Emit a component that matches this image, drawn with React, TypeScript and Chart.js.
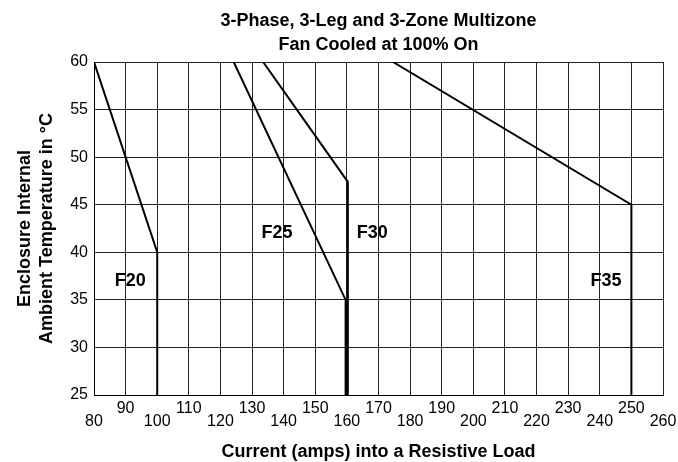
import React, { useEffect, useRef } from "react";
import { Chart, registerables } from "chart.js";

Chart.register(...registerables);

// ---- data ----
const titleLines = ["3-Phase, 3-Leg and 3-Zone Multizone", "Fan Cooled at 100% On"];
const xAxisTitle = "Current (amps) into a Resistive Load";
const yAxisTitle = ["Enclosure Internal", "Ambient Temperature in °C"];

const xTickLabels = ["80", "90", "100", "110", "120", "130", "140", "150", "160", "170", "180", "190", "200", "210", "220", "230", "240", "250", "260"];
const yTickLabels = ["25", "30", "35", "40", "45", "50", "55", "60"];

const f20X = [80, 100, 100];
const f20Y = [60, 40, 25];
const f25X = [124.2, 159.6, 159.6];
const f25Y = [60, 35, 25];
const f30X = [133.5, 160.3, 160.3];
const f30Y = [60, 47.4, 25];
const f35X = [174.6, 250, 250];
const f35Y = [60, 45, 25];

const seriesNames = ["F20", "F25", "F30", "F35"];
const labelX = [91.5, 137.9, 168, 242];
const labelY = [37, 42, 42, 37];

const FONT = "'Liberation Sans', Arial, Helvetica, sans-serif";

function pts(xs: number[], ys: number[]) {
  return xs.map((x, i) => ({ x, y: ys[i] }));
}

const seriesLabelPlugin = {
  id: "seriesLabels",
  afterDatasetsDraw(chart: any) {
    const { ctx, scales } = chart;
    ctx.save();
    ctx.font = `bold 18px ${FONT}`;
    ctx.fillStyle = "#000";
    ctx.textAlign = "center";
    ctx.textBaseline = "middle";
    seriesNames.forEach((name, i) => {
      ctx.fillText(name, scales.x.getPixelForValue(labelX[i]), scales.y.getPixelForValue(labelY[i]));
    });
    ctx.restore();
  },
};

const centeredTitlePlugin = {
  id: "centeredTitle",
  afterDraw(chart: any) {
    const { ctx, chartArea } = chart;
    const cx = (chartArea.left + chartArea.right) / 2;
    ctx.save();
    ctx.font = `bold 18px ${FONT}`;
    ctx.fillStyle = "#000";
    ctx.textAlign = "center";
    ctx.textBaseline = "middle";
    titleLines.forEach((line, i) => {
      ctx.fillText(line, cx, 21 + i * 24);
    });
    ctx.restore();
  },
};

export default function App() {
  const ref = useRef<HTMLCanvasElement | null>(null);

  useEffect(() => {
    document.body.style.margin = "0";
    if (!ref.current) return;
    const lineStyle = {
      borderColor: "#000",
      borderWidth: 2,
      pointRadius: 0,
      tension: 0,
      fill: false,
    };
    const chart = new Chart(ref.current, {
      type: "line",
      data: {
        datasets: [
          { label: seriesNames[0], data: pts(f20X, f20Y), ...lineStyle },
          { label: seriesNames[1], data: pts(f25X, f25Y), ...lineStyle },
          { label: seriesNames[2], data: pts(f30X, f30Y), ...lineStyle },
          { label: seriesNames[3], data: pts(f35X, f35Y), ...lineStyle },
        ],
      },
      options: {
        animation: false,
        responsive: true,
        maintainAspectRatio: false,
        layout: { padding: { left: 0, right: 15, top: 62, bottom: 0 } },
        plugins: {
          legend: { display: false },
          tooltip: { enabled: false },
          title: { display: false },
        },
        scales: {
          x: {
            type: "linear",
            min: 80,
            max: 260,
            afterFit: (s: any) => {
              s.height = 67;
              s.paddingRight = 0;
              s.paddingLeft = 0;
            },
            ticks: {
              stepSize: 10,
              autoSkip: false,
              maxRotation: 0,
              minRotation: 0,
              padding: 7.6,
              color: "#000",
              font: { family: FONT, size: 16, lineHeight: 0.8 },
              callback: (_v: any, i: number) => (i % 2 === 0 ? ["", xTickLabels[i]] : [xTickLabels[i], ""]),
            },
            grid: { color: "#222", lineWidth: 1, drawTicks: false },
            border: { color: "#000", width: 1 },
            title: {
              display: true,
              text: xAxisTitle,
              color: "#000",
              font: { family: FONT, size: 18, weight: "bold", lineHeight: 1.2 },
              padding: { top: 0, bottom: -0.8 },
            },
          },
          y: {
            type: "linear",
            min: 25,
            max: 60,
            afterFit: (s: any) => {
              s.width = 94;
            },
            ticks: {
              stepSize: 5,
              padding: 6,
              color: "#000",
              font: { family: FONT, size: 16 },
              callback: (_v: any, i: number) => yTickLabels[i],
            },
            grid: { color: "#222", lineWidth: 1, drawTicks: false },
            border: { color: "#000", width: 1 },
            title: {
              display: true,
              text: yAxisTitle,
              color: "#000",
              font: { family: FONT, size: 18, weight: "bold", lineHeight: 1.22 },
              padding: { top: 14, bottom: 0 },
            },
          },
        },
      },
      plugins: [seriesLabelPlugin, centeredTitlePlugin],
    });
    return () => chart.destroy();
  }, []);

  return (
    <div style={{ position: "relative", width: "678px", height: "462px" }}>
      <canvas ref={ref} />
    </div>
  );
}
